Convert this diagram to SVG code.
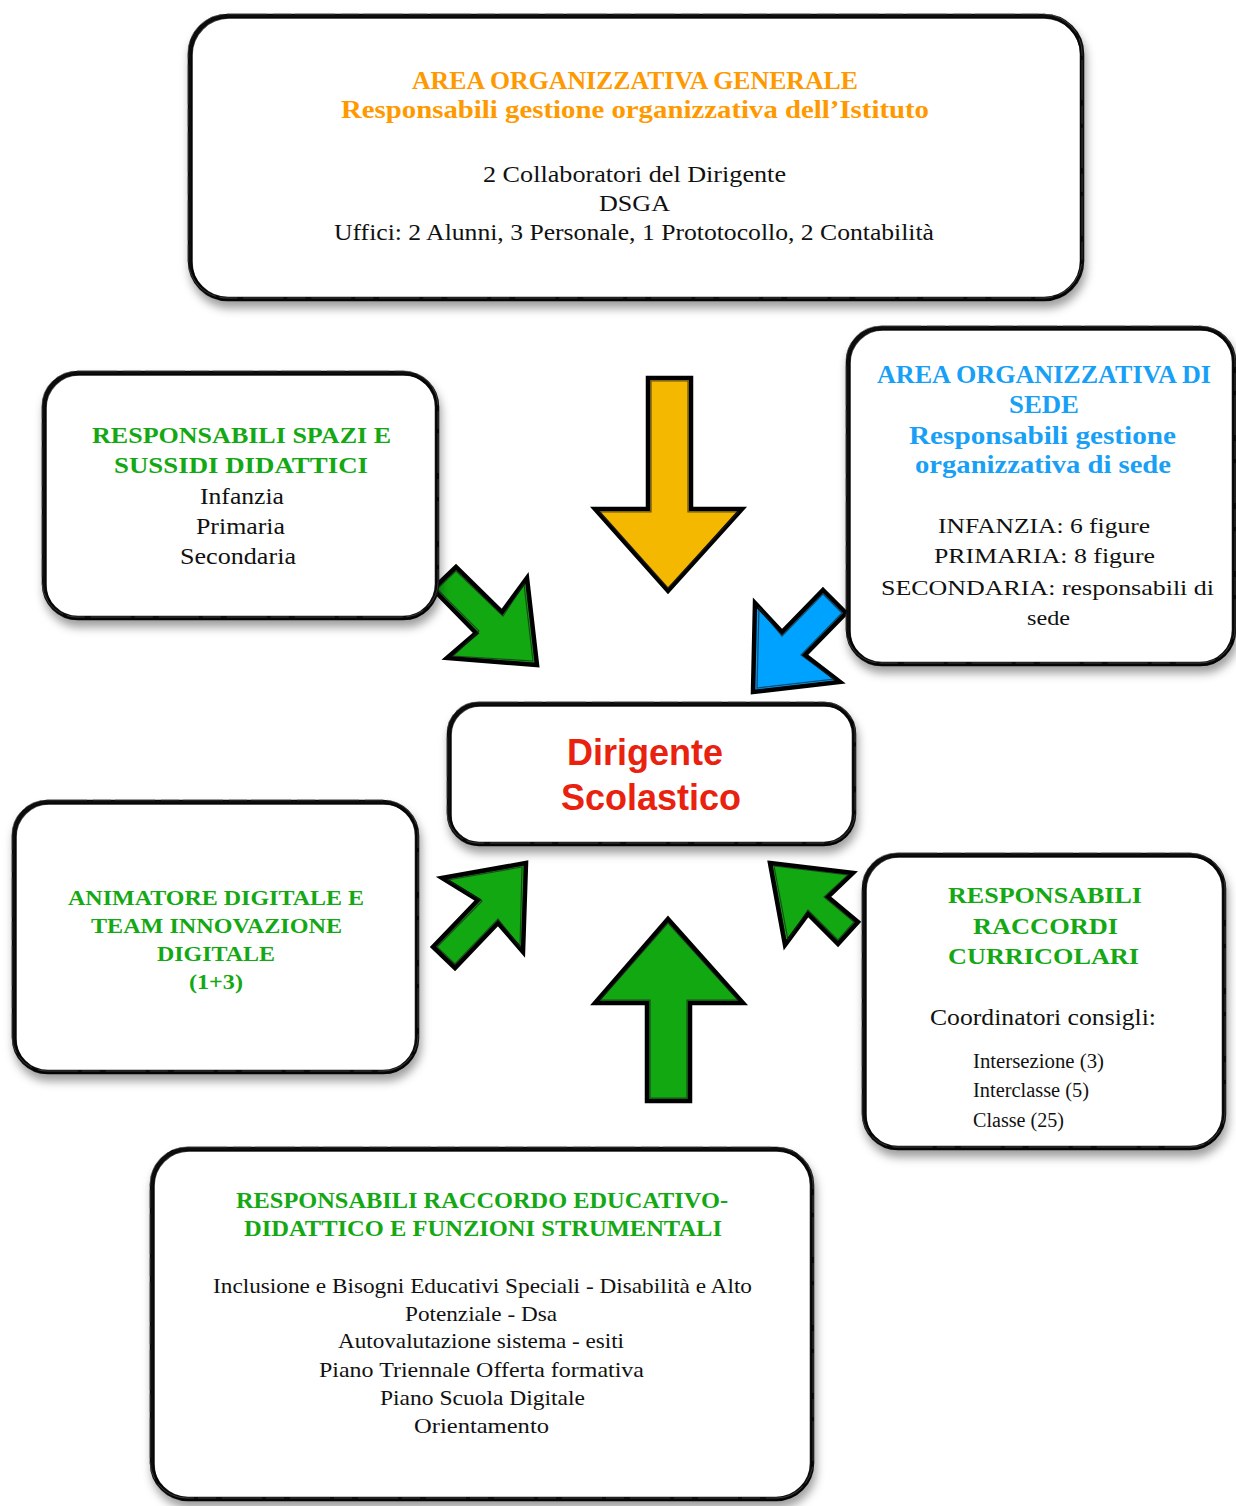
<svg xmlns="http://www.w3.org/2000/svg" width="1236" height="1506" viewBox="0 0 1236 1506">
<defs>
<filter id="sh" x="-10%" y="-10%" width="120%" height="130%">
<feDropShadow dx="2" dy="7" stdDeviation="5" flood-color="#000" flood-opacity="0.38"/>
</filter>
<style>
.box{fill:#fff;stroke:#111;stroke-width:4.5}
.rough{fill:none;stroke:#000;stroke-width:1.6;opacity:0.75}
.rough2{fill:none;stroke:#555;stroke-width:1;opacity:0.6;stroke-dasharray:40 6 18 4}
.sf{font-family:'Liberation Serif','Times New Roman',Times,serif;text-anchor:middle}
.h{font-weight:bold}
.or{fill:#FF9900}
.bl{fill:#18A0F6}
.gr{fill:#14A814}
.bk{fill:#111}
.red{fill:#E8220E;font-family:'Liberation Sans',Arial,Helvetica,sans-serif;font-weight:bold;font-size:36px;text-anchor:middle}
.arr{stroke:#000;stroke-width:4.5;stroke-linejoin:miter}
.arr2{fill:none;stroke:#222;stroke-width:1.2;opacity:0.7}
</style>
</defs>

<g id="connectors">
<polygon class="arr" fill="#F5B800" points="648,378 691,378 691,509 742,509 668,591 595,509 648,509"/>
<polygon class="arr2" points="651,381 688,381 688,512 738,512 668,588 600,512 651,512"/>
<polygon class="arr" fill="#11A811" points="433,589 456,567 502,612 527,578 537,665 447,658 476,633"/>
<polygon class="arr2" points="437,589 456,571 503,616 524,584 533,661 453,656 479,631"/>
<polygon class="arr" fill="#00A2FF" points="823,590 846,613 805,655 840,682 753,692 755,603 782,632"/>
<polygon class="arr2" points="823,594 842,613 801,655 834,679 757,688 759,608 782,636"/>
<polygon class="arr" fill="#11A811" points="668,919 743,1003 690,1003 690,1101 647,1101 647,1003 595,1003"/>
<polygon class="arr2" points="668,923 738,1000 687,1000 687,1098 650,1098 650,1000 600,1000"/>
<polygon class="arr" fill="#11A811" points="526,863 442,878 478,900 433,947 455,968 498,923 523,952"/>
<polygon class="arr2" points="522,867 448,880 482,901 437,947 455,964 498,919 520,947"/>
<polygon class="arr" fill="#11A811" points="770,863 853,873 828,897 858,922 838,944 808,914 785,945"/>
<polygon class="arr2" points="774,866 848,875 824,897 854,922 838,940 808,910 788,940"/>
</g>

<g id="node-area-generale" font-family="Liberation Serif, Times New Roman, serif">
<rect class="box" filter="url(#sh)" x="190" y="16" width="892" height="283" rx="38"/>
<rect class="rough" x="192" y="18" width="889" height="282" rx="37"/>
<rect class="rough2" x="188" y="14" width="894" height="284" rx="39"/>
<text class="sf h or" x="635" y="89" font-size="25" textLength="446" lengthAdjust="spacingAndGlyphs">AREA ORGANIZZATIVA GENERALE</text>
<text class="sf h or" x="635" y="118" font-size="25" textLength="588" lengthAdjust="spacingAndGlyphs">Responsabili gestione organizzativa dell’Istituto</text>
<text class="sf bk" x="634.5" y="182" font-size="24" textLength="303" lengthAdjust="spacingAndGlyphs">2 Collaboratori del Dirigente</text>
<text class="sf bk" x="634.5" y="211" font-size="24" textLength="71" lengthAdjust="spacingAndGlyphs">DSGA</text>
<text class="sf bk" x="634" y="240" font-size="24" textLength="600" lengthAdjust="spacingAndGlyphs">Uffici: 2 Alunni, 3 Personale, 1 Prototocollo, 2 Contabilità</text>
</g>

<g id="node-area-sede">
<rect class="box" filter="url(#sh)" x="848" y="328" width="386" height="336" rx="34"/>
<rect class="rough" x="850" y="330" width="384" height="335" rx="33"/>
<rect class="rough2" x="846" y="326" width="389" height="337" rx="35"/>
<text class="sf h bl" x="1044" y="383" font-size="25" textLength="334" lengthAdjust="spacingAndGlyphs">AREA ORGANIZZATIVA DI</text>
<text class="sf h bl" x="1044" y="413" font-size="25" textLength="70" lengthAdjust="spacingAndGlyphs">SEDE</text>
<text class="sf h bl" x="1042.5" y="444" font-size="25" textLength="267" lengthAdjust="spacingAndGlyphs">Responsabili gestione</text>
<text class="sf h bl" x="1043" y="473" font-size="25" textLength="256" lengthAdjust="spacingAndGlyphs">organizzativa di sede</text>
<text class="sf bk" x="1044" y="533" font-size="22" textLength="212" lengthAdjust="spacingAndGlyphs">INFANZIA: 6 figure</text>
<text class="sf bk" x="1044.5" y="563" font-size="22" textLength="221" lengthAdjust="spacingAndGlyphs">PRIMARIA:  8 figure</text>
<text class="sf bk" x="1047.5" y="595" font-size="22" textLength="333" lengthAdjust="spacingAndGlyphs">SECONDARIA: responsabili di</text>
<text class="sf bk" x="1048.5" y="625" font-size="22" textLength="43" lengthAdjust="spacingAndGlyphs">sede</text>
</g>

<g id="node-spazi">
<rect class="box" filter="url(#sh)" x="44" y="373" width="393" height="245" rx="34"/>
<rect class="rough" x="46" y="375" width="391" height="244" rx="33"/>
<rect class="rough2" x="42" y="371" width="396" height="246" rx="35"/>
<text class="sf h gr" x="241.5" y="443" font-size="23" textLength="299" lengthAdjust="spacingAndGlyphs">RESPONSABILI SPAZI E</text>
<text class="sf h gr" x="241" y="473" font-size="23" textLength="254" lengthAdjust="spacingAndGlyphs">SUSSIDI DIDATTICI</text>
<text class="sf bk" x="242" y="504" font-size="23" textLength="84" lengthAdjust="spacingAndGlyphs">Infanzia</text>
<text class="sf bk" x="240.5" y="534" font-size="23" textLength="89" lengthAdjust="spacingAndGlyphs">Primaria</text>
<text class="sf bk" x="238" y="564" font-size="23" textLength="116" lengthAdjust="spacingAndGlyphs">Secondaria</text>
</g>

<g id="node-dirigente">
<rect class="box" filter="url(#sh)" x="449" y="704" width="405" height="140" rx="30"/>
<rect class="rough" x="451" y="706" width="403" height="139" rx="29"/>
<rect class="rough2" x="447" y="702" width="408" height="141" rx="31"/>
<text class="red" x="645" y="765">Dirigente</text>
<text class="red" x="651" y="810">Scolastico</text>
</g>

<g id="node-animatore">
<rect class="box" filter="url(#sh)" x="14" y="802" width="403" height="270" rx="34"/>
<rect class="rough" x="16" y="804" width="401" height="269" rx="33"/>
<rect class="rough2" x="12" y="800" width="406" height="271" rx="35"/>
<text class="sf h gr" x="216" y="905" font-size="22" textLength="296" lengthAdjust="spacingAndGlyphs">ANIMATORE DIGITALE E</text>
<text class="sf h gr" x="216.5" y="933" font-size="22" textLength="251" lengthAdjust="spacingAndGlyphs">TEAM INNOVAZIONE</text>
<text class="sf h gr" x="216" y="961" font-size="22" textLength="118" lengthAdjust="spacingAndGlyphs">DIGITALE</text>
<text class="sf h gr" x="216" y="989" font-size="22" textLength="54" lengthAdjust="spacingAndGlyphs">(1+3)</text>
</g>

<g id="node-raccordi">
<rect class="box" filter="url(#sh)" x="864" y="855" width="360" height="293" rx="34"/>
<rect class="rough" x="866" y="857" width="358" height="292" rx="33"/>
<rect class="rough2" x="862" y="853" width="363" height="294" rx="35"/>
<text class="sf h gr" x="1045" y="903" font-size="23" textLength="194" lengthAdjust="spacingAndGlyphs">RESPONSABILI</text>
<text class="sf h gr" x="1045.5" y="934" font-size="23" textLength="145" lengthAdjust="spacingAndGlyphs">RACCORDI</text>
<text class="sf h gr" x="1043.5" y="964" font-size="23" textLength="191" lengthAdjust="spacingAndGlyphs">CURRICOLARI</text>
<text class="sf bk" x="1043" y="1025" font-size="23" textLength="226" lengthAdjust="spacingAndGlyphs">Coordinatori consigli:</text>
<text class="sf bk" x="973" y="1068" font-size="20" style="text-anchor:start" textLength="131" lengthAdjust="spacingAndGlyphs">Intersezione (3)</text>
<text class="sf bk" x="973" y="1097" font-size="20" style="text-anchor:start" textLength="116" lengthAdjust="spacingAndGlyphs">Interclasse (5)</text>
<text class="sf bk" x="973" y="1127" font-size="20" style="text-anchor:start" textLength="91" lengthAdjust="spacingAndGlyphs">Classe (25)</text>
</g>

<g id="node-funzioni">
<rect class="box" filter="url(#sh)" x="152" y="1149" width="660" height="350" rx="36"/>
<rect class="rough" x="154" y="1151" width="658" height="349" rx="35"/>
<rect class="rough2" x="150" y="1147" width="663" height="351" rx="37"/>
<text class="sf h gr" x="482" y="1208" font-size="23" textLength="492" lengthAdjust="spacingAndGlyphs">RESPONSABILI RACCORDO EDUCATIVO-</text>
<text class="sf h gr" x="483" y="1236" font-size="23" textLength="478" lengthAdjust="spacingAndGlyphs">DIDATTICO E FUNZIONI STRUMENTALI</text>
<text class="sf bk" x="482.5" y="1293" font-size="22" textLength="539" lengthAdjust="spacingAndGlyphs">Inclusione e Bisogni Educativi Speciali - Disabilità e Alto</text>
<text class="sf bk" x="481" y="1321" font-size="22" textLength="152" lengthAdjust="spacingAndGlyphs">Potenziale - Dsa</text>
<text class="sf bk" x="481" y="1348" font-size="22" textLength="286" lengthAdjust="spacingAndGlyphs">Autovalutazione sistema - esiti</text>
<text class="sf bk" x="481.5" y="1377" font-size="22" textLength="325" lengthAdjust="spacingAndGlyphs">Piano Triennale Offerta formativa</text>
<text class="sf bk" x="482.5" y="1405" font-size="22" textLength="205" lengthAdjust="spacingAndGlyphs">Piano Scuola Digitale</text>
<text class="sf bk" x="481.5" y="1433" font-size="22" textLength="135" lengthAdjust="spacingAndGlyphs">Orientamento</text>
</g>
</svg>
